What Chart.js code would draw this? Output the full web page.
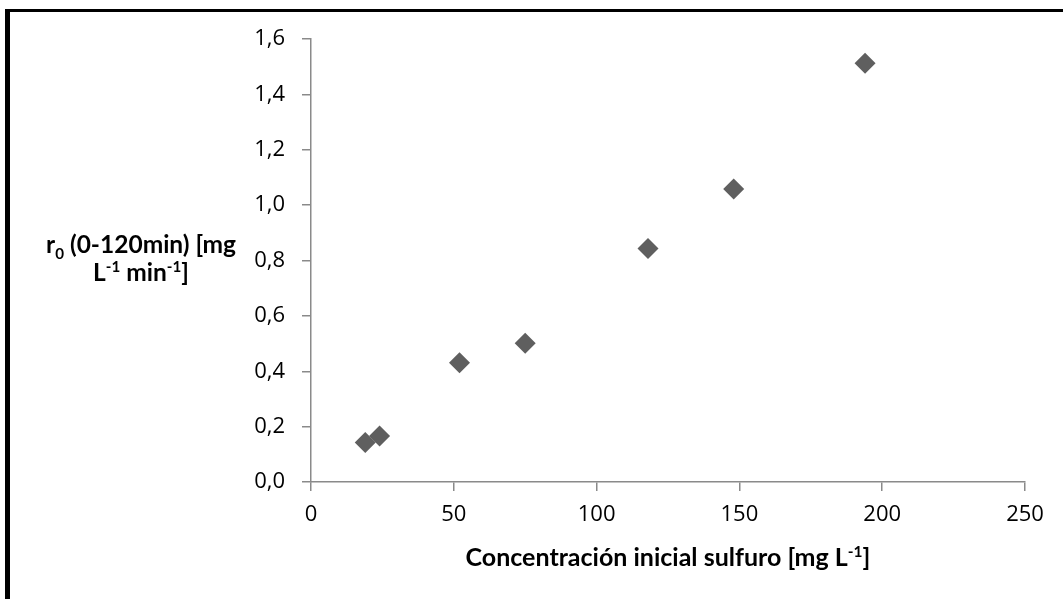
<!DOCTYPE html>
<html>
<head>
<meta charset="utf-8">
<script src="https://cdn.jsdelivr.net/npm/chart.js@4/dist/chart.umd.min.js"></script>
<style>
    body { margin: 0; background: #fff; }
    #wrap { position: relative; width: 1063px; height: 599px; overflow: hidden; background: #fff; }
    #chart { position: absolute; left: 0; top: 0; }
    .frame { position: absolute; left: 5px; top: 9px; width: 1200px; height: 800px;
        border-left: 5px solid #000; border-top: 3px solid #000; }
    .title { position: absolute; font-family: Lato, "Open Sans", sans-serif; font-weight: bold;
        color: #000; text-align: center; white-space: nowrap; }
    .title sub, .title sup { font-size: 0.62em; line-height: 0; }
    #ytitle { left: 31px; width: 220px; top: 230px; line-height: 28px; font-size: 24.5px; }
    #xtitle { left: 448px; width: 440px; top: 541px; font-size: 25px; }
</style>
</head>
<body>
<div id="wrap">
    <canvas id="chart" width="1063" height="599"></canvas>
    <div class="frame"></div>
    <div class="title" id="ytitle">r<sub>0</sub> (0-120min) [mg<br>L<sup>-1</sup> min<sup>-1</sup>]</div>
    <div class="title" id="xtitle">Concentración inicial sulfuro [mg L<sup>-1</sup>]</div>
</div>
<script>
"use strict";

// datos
const concentracion = [19, 24, 52, 75, 118, 148, 194];      // mg L-1
const velocidad = [0.143, 0.166, 0.431, 0.501, 0.843, 1.058, 1.512];
const xTicks = [0, 50, 100, 150, 200, 250];
const yTicks = [0, 0.2, 0.4, 0.6, 0.8, 1.0, 1.2, 1.4, 1.6];

const axisGray = '#8a8a8a';
const tickFont = { family: '"Open Sans", Lato, sans-serif', size: 22 };

var puntos = concentracion.map(function (c, i) {
    return { x: c, y: velocidad[i] };
});

var config = {
    type: 'scatter',
    data: {
        datasets: [{
            label: 'r0',
            data: puntos,
            pointStyle: 'rectRot',
            pointRadius: 10.5,
            pointHoverRadius: 10.5,
            backgroundColor: '#5f5f5f',
            borderColor: '#5f5f5f',
            borderWidth: 0
        }]
    },
    options: {
        responsive: false,
        animation: false,
        events: [],
        layout: { padding: { left: 0, right: 38, top: 39, bottom: 0 } },
        plugins: {
            legend: { display: false },
            tooltip: { enabled: false }
        },
        scales: {
            x: {
                type: 'linear',
                min: xTicks[0],
                max: xTicks[xTicks.length - 1],
                afterBuildTicks: function (scale) {
                    scale.ticks = xTicks.map(function (v) { return { value: v }; });
                },
                afterFit: function (scale) { scale.height = 117; },
                grid: { drawOnChartArea: false, drawTicks: true, tickLength: 9, color: axisGray, lineWidth: 1.5 },
                border: { display: true, color: axisGray, width: 1.5 },
                ticks: { color: '#000', font: tickFont, padding: 11, maxRotation: 0 }
            },
            y: {
                type: 'linear',
                min: yTicks[0],
                max: yTicks[yTicks.length - 1],
                afterBuildTicks: function (scale) {
                    scale.ticks = yTicks.map(function (v) { return { value: v }; });
                },
                afterFit: function (scale) { scale.width = 311; },
                grid: { drawOnChartArea: false, drawTicks: true, tickLength: 9, color: axisGray, lineWidth: 1.5 },
                border: { display: true, color: axisGray, width: 1.5 },
                ticks: {
                    color: '#000',
                    font: tickFont,
                    padding: 17,
                    callback: function (v) { return Number(v).toFixed(1).replace('.', ','); }
                }
            }
        }
    }
};

var myChart = new Chart(document.getElementById('chart'), config);
</script>
</body>
</html>
